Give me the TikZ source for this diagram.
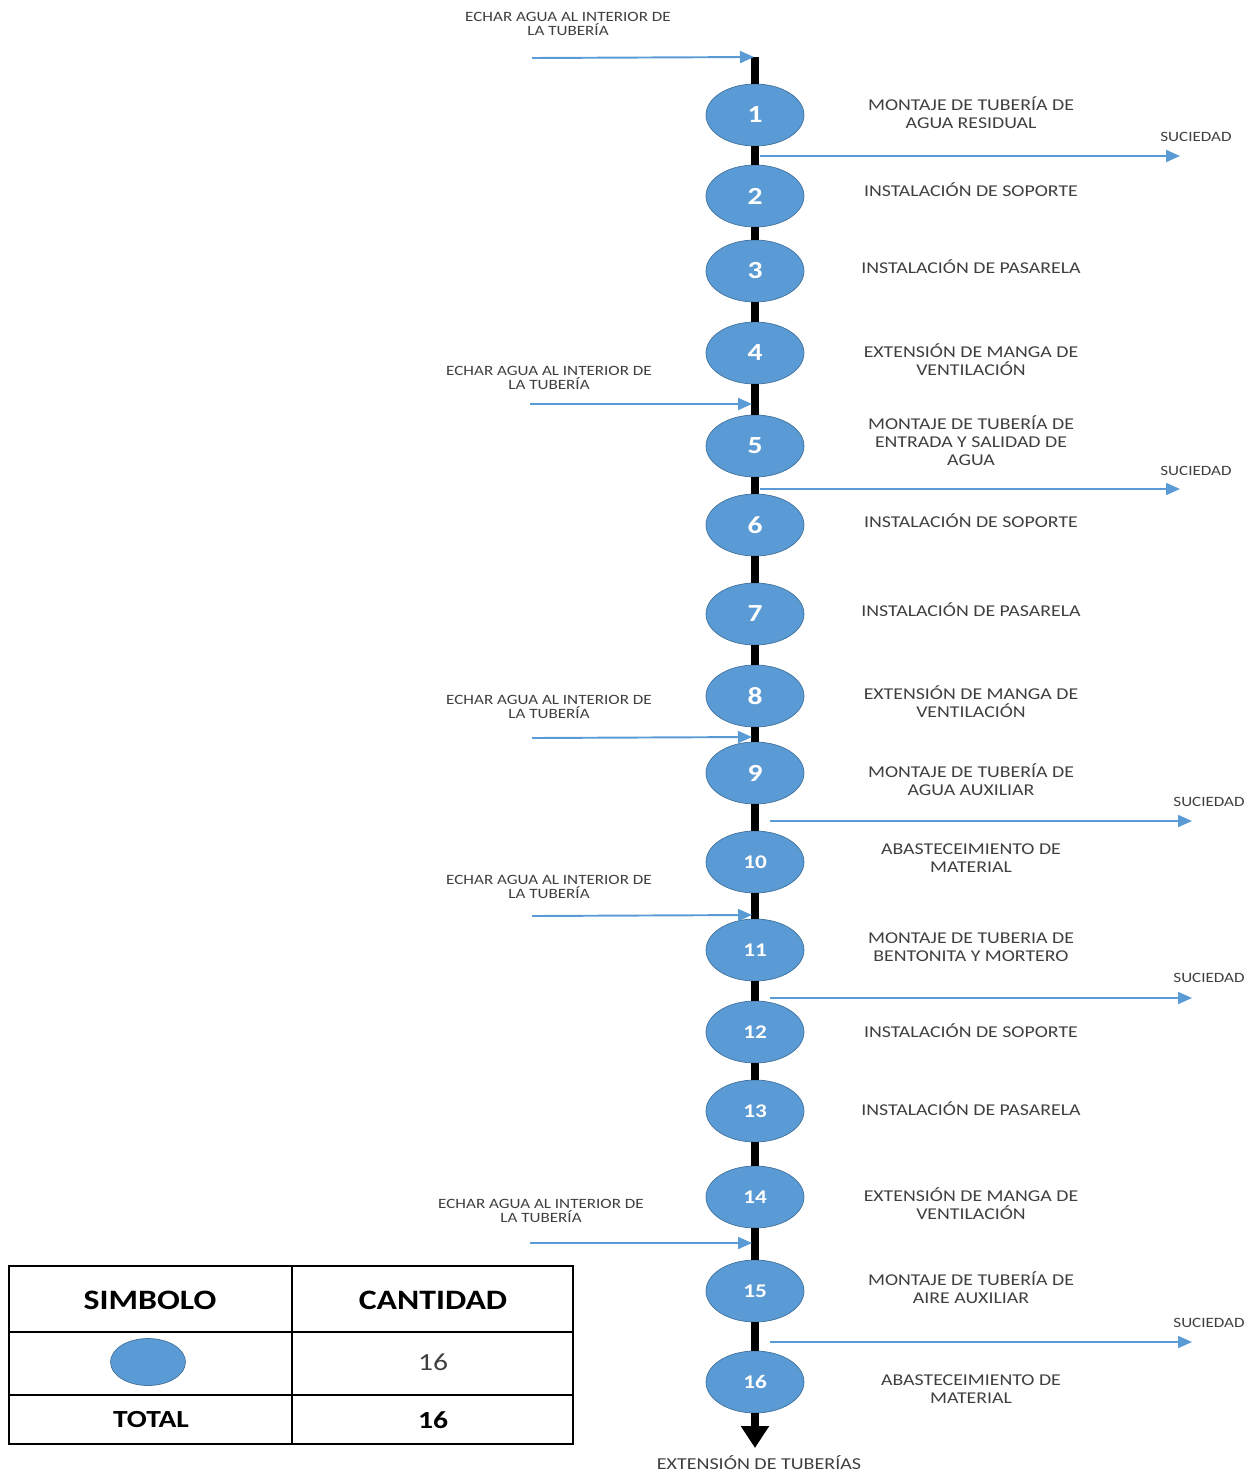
\documentclass[tikz,border=0pt]{standalone}
\usepackage{fontspec}
\setmainfont{Carlito}[FakeStretch=1.2]
\usepackage{tikz}
\usetikzlibrary{shapes.geometric, arrows.meta}
\definecolor{opblue}{HTML}{5B9BD5}
\definecolor{opedge}{HTML}{41719C}
\definecolor{txtgray}{HTML}{3F3F3F}
\tikzstyle{operacion} = [ellipse, draw=opedge, fill=opblue, minimum width=1.96cm, minimum height=1.24cm, inner sep=0pt, text=white, font=\fontsize{14}{14}\selectfont\bfseries]
\tikzstyle{operacion2} = [operacion, font=\fontsize{11}{11}\selectfont\bfseries]
\tikzstyle{desc} = [align=center, text=txtgray, font=\fontsize{9.4}{10.2}\selectfont]
\tikzstyle{nota} = [align=center, text=txtgray, font=\fontsize{8.1}{8}\selectfont]
\tikzstyle{spine} = [line width=4.5pt, black]
\tikzstyle{flecha} = [line width=1.1pt, opblue, -{Triangle[width=0.24cm,length=0.28cm]}]
\tikzstyle{tabla} = [line width=1.1pt, black]
\tikzstyle{celda} = [text=black, font=\fontsize{16}{16}\selectfont\bfseries]

\begin{document}
\begin{tikzpicture}[x=0.02cm, y=-0.02cm]
  \useasboundingbox (0,0) rectangle (1256,1472);

  % operaciones
  \node(n1)[operacion] at (755,115) {1};
  \node(n2)[operacion] at (755,196) {2};
  \node(n3)[operacion] at (755,271) {3};
  \node(n4)[operacion] at (755,353) {4};
  \node(n5)[operacion] at (755,446) {5};
  \node(n6)[operacion] at (755,525) {6};
  \node(n7)[operacion] at (755,614) {7};
  \node(n8)[operacion] at (755,696) {8};
  \node(n9)[operacion] at (755,773) {9};
  \node(n10)[operacion2] at (755,862) {10};
  \node(n11)[operacion2] at (755,950) {11};
  \node(n12)[operacion2] at (755,1032) {12};
  \node(n13)[operacion2] at (755,1111) {13};
  \node(n14)[operacion2] at (755,1197) {14};
  \node(n15)[operacion2] at (755,1291) {15};
  \node(n16)[operacion2] at (755,1382) {16};

  \coordinate(top) at (755,57);
  \coordinate(bot) at (755,1448);
  \draw[spine] (top)--(n1);
  \draw[spine] (n1)--(n2);
  \draw[spine] (n2)--(n3);
  \draw[spine] (n3)--(n4);
  \draw[spine] (n4)--(n5);
  \draw[spine] (n5)--(n6);
  \draw[spine] (n6)--(n7);
  \draw[spine] (n7)--(n8);
  \draw[spine] (n8)--(n9);
  \draw[spine] (n9)--(n10);
  \draw[spine] (n10)--(n11);
  \draw[spine] (n11)--(n12);
  \draw[spine] (n12)--(n13);
  \draw[spine] (n13)--(n14);
  \draw[spine] (n14)--(n15);
  \draw[spine] (n15)--(n16);
  \draw[spine, -{Triangle[width=0.54cm,length=0.44cm]}] (n16)--(bot);
  \node(fin)[desc, font=\fontsize{9.5}{10}\selectfont, inner sep=1pt] at (759,1463) {EXTENSIÓN DE TUBERÍAS};

  % descripciones
  \node(l1)[desc] at (971,113) {MONTAJE DE TUBERÍA DE\\AGUA RESIDUAL};
  \node(l2)[desc] at (971,190) {INSTALACIÓN DE SOPORTE};
  \node(l3)[desc] at (971,267) {INSTALACIÓN DE PASARELA};
  \node(l4)[desc] at (971,360) {EXTENSIÓN DE MANGA DE\\VENTILACIÓN};
  \node(l5)[desc] at (971,441) {MONTAJE DE TUBERÍA DE\\ENTRADA Y SALIDAD DE\\AGUA};
  \node(l6)[desc] at (971,521) {INSTALACIÓN DE SOPORTE};
  \node(l7)[desc] at (971,610) {INSTALACIÓN DE PASARELA};
  \node(l8)[desc] at (971,702) {EXTENSIÓN DE MANGA DE\\VENTILACIÓN};
  \node(l9)[desc] at (971,780) {MONTAJE DE TUBERÍA DE\\AGUA AUXILIAR};
  \node(l10)[desc] at (971,858) {ABASTECEIMIENTO DE\\MATERIAL};
  \node(l11)[desc] at (971,947) {MONTAJE DE TUBERIA DE\\BENTONITA Y MORTERO};
  \node(l12)[desc] at (971,1031) {INSTALACIÓN DE SOPORTE};
  \node(l13)[desc] at (971,1109) {INSTALACIÓN DE PASARELA};
  \node(l14)[desc] at (971,1204) {EXTENSIÓN DE MANGA DE\\VENTILACIÓN};
  \node(l15)[desc] at (971,1288) {MONTAJE DE TUBERÍA DE\\AIRE AUXILIAR};
  \node(l16)[desc] at (971,1389) {ABASTECEIMIENTO DE\\MATERIAL};

  % entradas de agua
  \node(e1)[nota] at (568,24) {ECHAR AGUA AL INTERIOR DE\\LA TUBERÍA};
  \node(e2)[nota] at (549,378) {ECHAR AGUA AL INTERIOR DE\\LA TUBERÍA};
  \node(e3)[nota] at (549,707) {ECHAR AGUA AL INTERIOR DE\\LA TUBERÍA};
  \node(e4)[nota] at (549,887) {ECHAR AGUA AL INTERIOR DE\\LA TUBERÍA};
  \node(e5)[nota] at (541,1211) {ECHAR AGUA AL INTERIOR DE\\LA TUBERÍA};
  \coordinate(a1) at (532,58);  \coordinate(b1) at (754,57);
  \coordinate(a2) at (530,404); \coordinate(b2) at (752,404);
  \coordinate(a3) at (532,738); \coordinate(b3) at (752,737);
  \coordinate(a4) at (532,916); \coordinate(b4) at (752,915);
  \coordinate(a5) at (530,1243); \coordinate(b5) at (752,1243);
  \draw[flecha] (a1)--(b1);
  \draw[flecha] (a2)--(b2);
  \draw[flecha] (a3)--(b3);
  \draw[flecha] (a4)--(b4);
  \draw[flecha] (a5)--(b5);

  % salidas de suciedad
  \node(s1)[nota] at (1196,137) {SUCIEDAD};
  \node(s2)[nota] at (1196,471) {SUCIEDAD};
  \node(s3)[nota] at (1209,802) {SUCIEDAD};
  \node(s4)[nota] at (1209,978) {SUCIEDAD};
  \node(s5)[nota] at (1209,1323) {SUCIEDAD};
  \coordinate(c1) at (760,156);  \coordinate(d1) at (1180,156);
  \coordinate(c2) at (760,489);  \coordinate(d2) at (1180,489);
  \coordinate(c3) at (770,821);  \coordinate(d3) at (1192,821);
  \coordinate(c4) at (770,998);  \coordinate(d4) at (1192,998);
  \coordinate(c5) at (770,1342); \coordinate(d5) at (1192,1342);
  \draw[flecha] (c1)--(d1);
  \draw[flecha] (c2)--(d2);
  \draw[flecha] (c3)--(d3);
  \draw[flecha] (c4)--(d4);
  \draw[flecha] (c5)--(d5);

  % tabla resumen
  \draw[tabla] (9,1266) rectangle (573,1444);
  \draw[tabla] (292,1266) -- (292,1444);
  \draw[tabla] (9,1332) -- (573,1332);
  \draw[tabla] (9,1395) -- (573,1395);
  \node(h1)[celda] at (150,1300) {SIMBOLO};
  \node(h2)[celda] at (433,1300) {CANTIDAD};
  \node(simb)[ellipse, draw=opedge, fill=opblue, minimum width=1.5cm, minimum height=0.94cm, inner sep=0pt] at (148,1362) {};
  \node(cant)[celda, font=\fontsize{14}{14}\selectfont, text=txtgray] at (433,1362) {16};
  \node(tot)[celda, font=\fontsize{14}{14}\selectfont\bfseries] at (151,1420) {TOTAL};
  \node(totn)[celda, font=\fontsize{14}{14}\selectfont\bfseries] at (433,1420) {16};
\end{tikzpicture}
\end{document}
